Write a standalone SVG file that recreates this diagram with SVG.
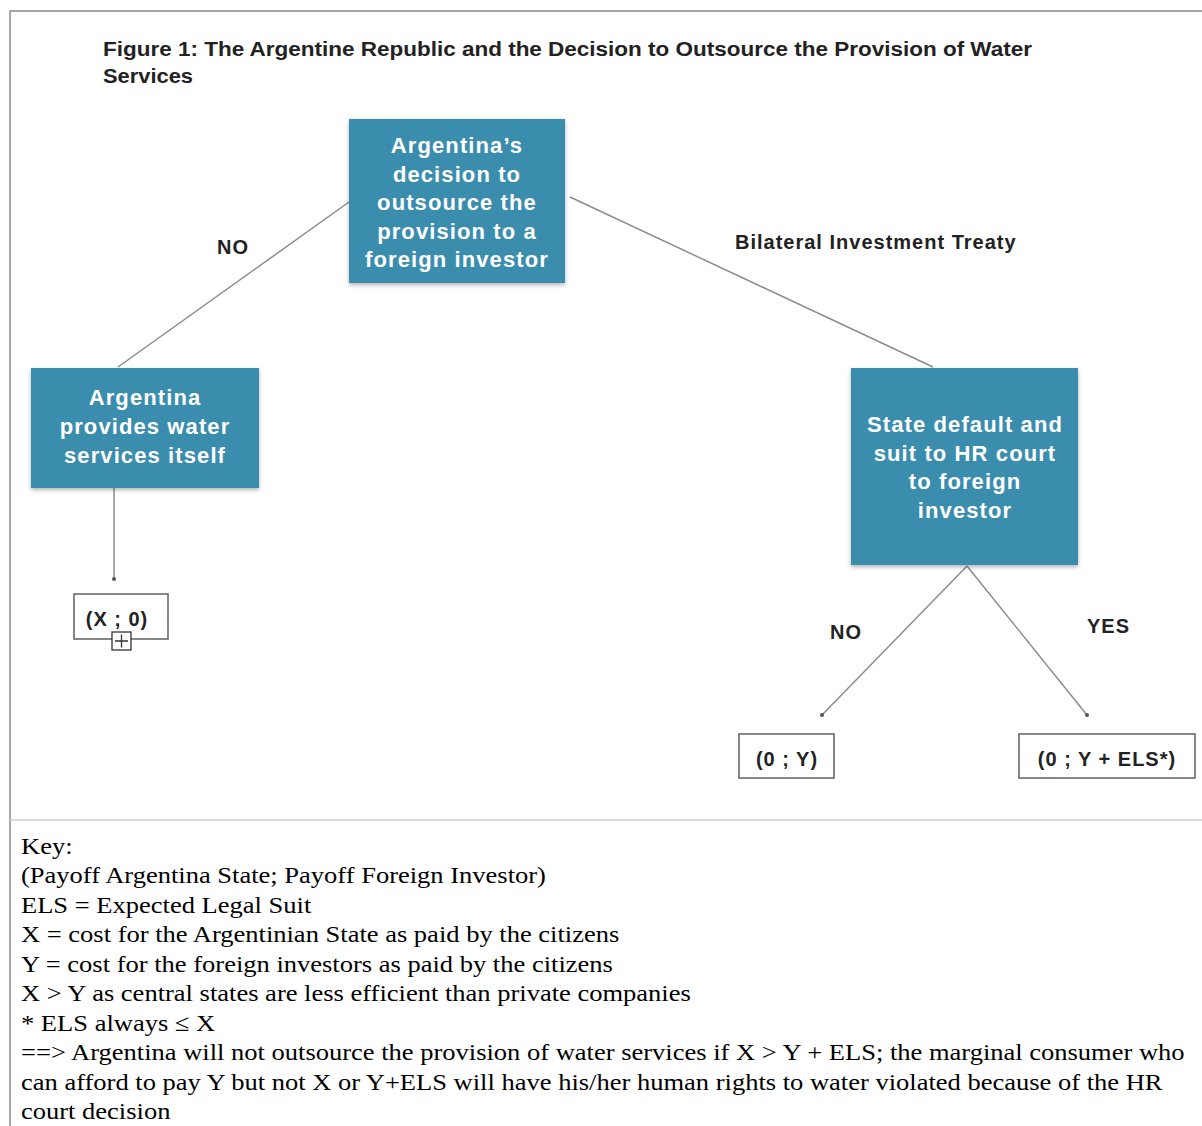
<svg xmlns="http://www.w3.org/2000/svg" width="1202" height="1126" viewBox="0 0 1202 1126">
<defs>
<style>
.frame{stroke:#8a8a8a;stroke-width:1.5;fill:none}
.sep{stroke:#d0d0d0;stroke-width:1.5;fill:none}
.title{font-family:"Liberation Sans",Arial,sans-serif;font-weight:bold;font-size:20px;fill:#222}
.box{fill:#3a8dad;filter:url(#sh)}
.bt{font-family:"Liberation Sans",Arial,sans-serif;font-weight:bold;font-size:22px;fill:#fff;text-anchor:middle;letter-spacing:1.1px}
.lbl{font-family:"Liberation Sans",Arial,sans-serif;font-weight:bold;font-size:20px;fill:#222;letter-spacing:1px}
.leaf{fill:#fff;stroke:#6a6a6a;stroke-width:1.6}
.lt{font-family:"Liberation Sans",Arial,sans-serif;font-weight:bold;font-size:20px;fill:#222;text-anchor:middle;letter-spacing:1px}
.con{stroke:#8c8c8c;stroke-width:1.5;fill:none}
.key{font-family:"Liberation Serif","Times New Roman",serif;font-size:24px;fill:#000}
</style>
<filter id="sh" x="-10%" y="-10%" width="120%" height="125%">
<feDropShadow dx="0" dy="2" stdDeviation="2" flood-color="#000" flood-opacity="0.3"/>
</filter>
<marker id="dot" viewBox="0 0 6 6" refX="3" refY="3" markerWidth="4" markerHeight="4" markerUnits="userSpaceOnUse">
<circle cx="3" cy="3" r="3" fill="#555"/>
</marker>
</defs>
<rect width="1202" height="1126" fill="#fff"/>
<path class="frame" d="M10,1126 V11 H1202"/>
<path class="sep" d="M10,820 H1202"/>
<g id="title">
<text class="title" x="103" y="56" textLength="929" lengthAdjust="spacingAndGlyphs">Figure 1: The Argentine Republic and the Decision to Outsource the Provision of Water</text>
<text class="title" x="103" y="83" textLength="90" lengthAdjust="spacingAndGlyphs">Services</text>
</g>
<g id="connectors">
<line class="con" x1="349" y1="202" x2="118" y2="367"/>
<line class="con" x1="570" y1="197" x2="933" y2="367"/>
<line class="con" x1="114" y1="488" x2="114" y2="579" marker-end="url(#dot)"/>
<line class="con" x1="967" y1="566" x2="822" y2="715" marker-end="url(#dot)"/>
<line class="con" x1="967" y1="566" x2="1087" y2="715" marker-end="url(#dot)"/>
<text class="lbl" x="217" y="254">NO</text>
<text class="lbl" x="735" y="249">Bilateral Investment Treaty</text>
<text class="lbl" x="830" y="639">NO</text>
<text class="lbl" x="1087" y="633">YES</text>
</g>
<g id="node-decision">
<rect class="box" x="349" y="119" width="216" height="164"/>
<text class="bt" x="457" y="153">Argentina’s</text>
<text class="bt" x="457" y="181.5">decision to</text>
<text class="bt" x="457" y="210">outsource the</text>
<text class="bt" x="457" y="238.5">provision to a</text>
<text class="bt" x="457" y="267">foreign investor</text>
</g>
<g id="node-self">
<rect class="box" x="31" y="368" width="228" height="120"/>
<text class="bt" x="145" y="405">Argentina</text>
<text class="bt" x="145" y="434">provides water</text>
<text class="bt" x="145" y="463">services itself</text>
</g>
<g id="node-default">
<rect class="box" x="851" y="368" width="227" height="197"/>
<text class="bt" x="965" y="432">State default and</text>
<text class="bt" x="965" y="460.5">suit to HR court</text>
<text class="bt" x="965" y="489">to foreign</text>
<text class="bt" x="965" y="517.5">investor</text>
</g>
<g id="leaf-x0">
<rect class="leaf" x="74" y="594" width="94" height="45"/>
<text class="lt" x="117" y="626">(X ; 0)</text>
<rect x="112" y="632" width="19" height="18" fill="#fff" stroke="#333" stroke-width="1.3"/>
<path d="M115,641 H128 M121.5,634.5 V647.5" stroke="#333" stroke-width="1.3"/>
</g>
<g id="leaf-0y">
<rect class="leaf" x="739" y="734" width="95" height="44"/>
<text class="lt" x="787" y="766">(0 ; Y)</text>
</g>
<g id="leaf-0yels">
<rect class="leaf" x="1019" y="734" width="176" height="44"/>
<text class="lt" x="1107" y="766">(0 ; Y + ELS*)</text>
</g>
<g id="key" transform="scale(1.105,1)">
<text class="key" x="19" y="854">Key:</text>
<text class="key" x="19" y="883.5">(Payoff Argentina State; Payoff Foreign Investor)</text>
<text class="key" x="19" y="913">ELS = Expected Legal Suit</text>
<text class="key" x="19" y="942.5">X = cost for the Argentinian State as paid by the citizens</text>
<text class="key" x="19" y="972">Y = cost for the foreign investors as paid by the citizens</text>
<text class="key" x="19" y="1001.5">X &gt; Y as central states are less efficient than private companies</text>
<text class="key" x="19" y="1031">* ELS always ≤ X</text>
<text class="key" x="19" y="1060.5">==&gt; Argentina will not outsource the provision of water services if X &gt; Y + ELS; the marginal consumer who</text>
<text class="key" x="19" y="1090">can afford to pay Y but not X or Y+ELS will have his/her human rights to water violated because of the HR</text>
<text class="key" x="19" y="1119">court decision</text>
</g>
</svg>
